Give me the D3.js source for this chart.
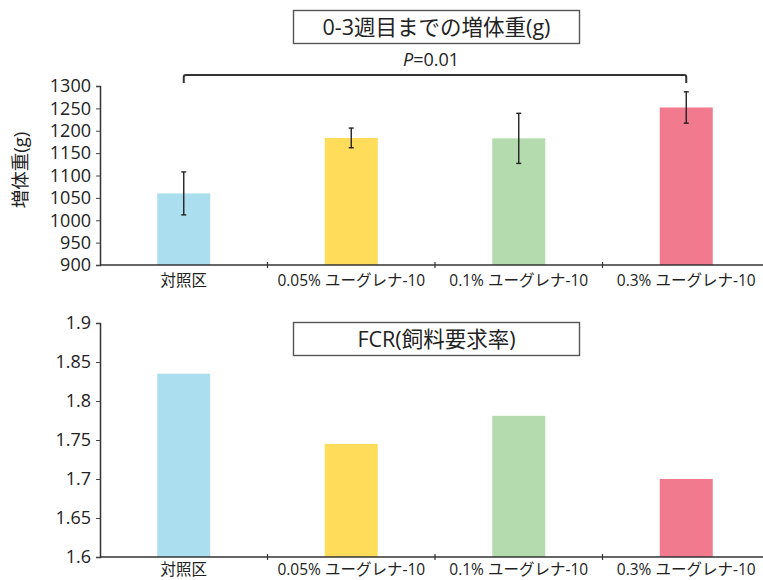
<!DOCTYPE html>
<html><head><meta charset="utf-8">
<script src="https://cdn.jsdelivr.net/npm/d3@7"></script>
<style>body{margin:0;background:#fff}svg{display:block}text{font-family:"Open Sans","Noto Sans CJK JP",sans-serif;fill:#222}</style>
</head><body>
<script>
const categories = ["対照区", "0.05% ユーグレナ-10", "0.1% ユーグレナ-10", "0.3% ユーグレナ-10"];
const colors = ["#ABDEEF", "#FFDD5A", "#B3DBAD", "#F27A8F"];
const gainValues = [1060, 1184, 1183, 1252];
const gainErrors = [48, 22, 56, 35];
const gainTicks = [900, 950, 1000, 1050, 1100, 1150, 1200, 1250, 1300];
const fcrValues = [1.835, 1.745, 1.781, 1.700];
const fcrTicks = [1.6, 1.65, 1.7, 1.75, 1.8, 1.85, 1.9];
const gainTitle = "0-3週目までの増体重(g)";
const fcrTitle = "FCR(飼料要求率)";
const gainAxisLabel = "増体重(g)";
const pLabel = "=0.01";

const W = 763, H = 580;
const svg = d3.select("body").append("svg").attr("width", W).attr("height", H);
const FONT = '"Open Sans","Noto Sans CJK JP",sans-serif';

const x = d3.scaleBand().domain(categories).range([100, 770]).padding(0);
const barW = 53;

function panel(yScale, ticks, values, errors, fmt, title, titleY, labelOffset) {
  const g = svg.append("g");
  const [y0, y1] = yScale.range();
  g.selectAll("rect.bar").data(values).join("rect")
    .attr("x", (d, i) => x(categories[i]) + x.bandwidth() / 2 - barW / 2)
    .attr("width", barW)
    .attr("y", d => yScale(d))
    .attr("height", d => y0 - yScale(d))
    .attr("fill", (d, i) => colors[i]);
  if (errors) {
    values.forEach((v, i) => {
      const cx = x(categories[i]) + x.bandwidth() / 2;
      const t = yScale(v + errors[i]), b = yScale(v - errors[i]);
      g.append("line").attr("x1", cx).attr("x2", cx).attr("y1", t).attr("y2", b).attr("stroke", "#222").attr("stroke-width", 1.4);
      [t, b].forEach(yy => g.append("line").attr("x1", cx - 2.5).attr("x2", cx + 2.5).attr("y1", yy).attr("y2", yy).attr("stroke", "#222").attr("stroke-width", 1.4));
    });
  }
  const ya = d3.axisLeft(yScale).tickValues(ticks).tickSize(4).tickPadding(5).tickFormat(fmt);
  const yg = g.append("g").attr("transform", "translate(100,0)").call(ya);
  yg.select(".domain").attr("stroke", "#333").attr("stroke-width", 1.5);
  yg.selectAll(".tick line").attr("stroke", "#444").attr("stroke-width", 1);
  yg.selectAll(".tick text").attr("font-size", 18).attr("fill", "#222").attr("font-family", FONT);
  g.append("line").attr("x1", 100).attr("x2", 770).attr("y1", y0).attr("y2", y0).attr("stroke", "#333").attr("stroke-width", 1.5);
  categories.slice(1).forEach(c => {
    g.append("line").attr("x1", x(c)).attr("x2", x(c)).attr("y1", y0 - 3).attr("y2", y0 + 3).attr("stroke", "#333").attr("stroke-width", 1.2);
  });
  g.selectAll("text.cat").data(categories).join("text")
    .attr("x", d => x(d) + x.bandwidth() / 2)
    .attr("y", y0 + labelOffset)
    .attr("text-anchor", "middle")
    .attr("font-size", 15.5)
    .text(d => d);
  g.append("rect").attr("x", 293.5).attr("y", titleY).attr("width", 286).attr("height", 33)
    .attr("fill", "#fff").attr("stroke", "#555").attr("stroke-width", 1.4);
  g.append("text").attr("x", 436.5).attr("y", titleY + 24.5).attr("text-anchor", "middle")
    .attr("font-size", 21.5).text(title);
  return g;
}

const yGain = d3.scaleLinear().domain([900, 1300]).range([265, 86]);
const yFcr = d3.scaleLinear().domain([1.6, 1.9]).range([557, 323]);

panel(yGain, gainTicks, gainValues, gainErrors, d3.format("d"), gainTitle, 10.5, 21);
panel(yFcr, fcrTicks, fcrValues, null, d => String(+d.toFixed(2)), fcrTitle, 322.5, 18);

svg.append("text").attr("transform", "translate(27,170) rotate(-90)").attr("text-anchor", "middle")
  .attr("font-size", 18.5).text(gainAxisLabel);

const xa = x(categories[0]) + x.bandwidth() / 2, xb = x(categories[3]) + x.bandwidth() / 2;
svg.append("path").attr("d", `M${xa},83 V77 Q${xa},75 ${xa + 2},75 H${xb - 2} Q${xb},75 ${xb},77 V83`)
  .attr("fill", "none").attr("stroke", "#333").attr("stroke-width", 2);
const pt = svg.append("text").attr("x", (xa + xb) / 2 - 4).attr("y", 66).attr("text-anchor", "middle").attr("font-size", 18);
pt.append("tspan").attr("font-style", "italic").text("P");
pt.append("tspan").text(pLabel);
</script>
</body></html>
